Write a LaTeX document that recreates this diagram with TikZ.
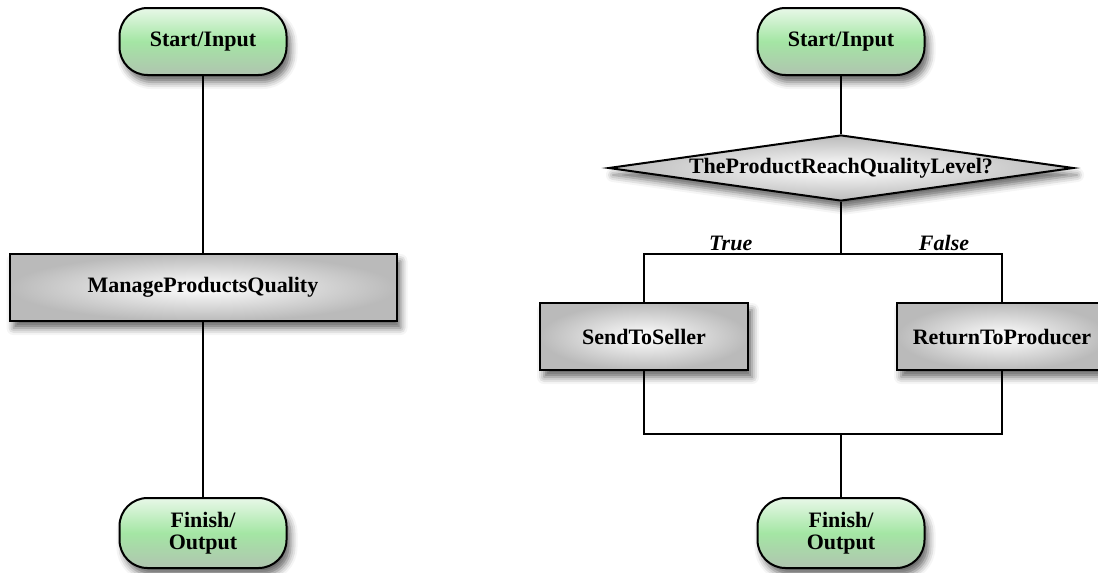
\documentclass[tikz,border=0pt]{standalone}
\usepackage{fontspec}
\setmainfont{Liberation Serif}
\usetikzlibrary{shapes.geometric,shadows.blur}

\definecolor{termtop}{HTML}{E8F8E8}
\definecolor{termmid}{HTML}{A4E6A4}
\definecolor{termbot}{HTML}{B0C4B0}
\definecolor{boxedge}{HTML}{BABABA}

\begin{document}
\begin{tikzpicture}[thick, node distance=123pt, font=\fontsize{11}{11}\selectfont\bfseries,
    soft shadow/.style={blur shadow={shadow xshift=2pt, shadow yshift=-3.5pt, shadow blur radius=3.5pt, shadow opacity=60}},
    term node/.style={rectangle, rounded corners=14pt, draw, line width=1pt, minimum width=83.5pt, minimum height=33.5pt, align=center, top color=termtop, bottom color=termbot, middle color=termmid, soft shadow},
    task node/.style={rectangle, draw, line width=1pt, minimum height=33.5pt, inner color=white, outer color=boxedge, soft shadow},
    test node/.style={diamond, draw, line width=1pt, aspect=7, inner sep=0pt, minimum width=232.5pt, minimum height=33pt, inner color=white, outer color=boxedge, soft shadow},
    branch/.style={above, inner sep=1pt, font=\fontsize{11}{11}\selectfont\bfseries\itshape}]
            \useasboundingbox (0,0) rectangle (549pt,-286.5pt);

            % simple process
            \node [term node](1) at (101.5pt,-20.75pt){Start/Input};
            \node [task node, minimum width=193.5pt](2) [below of=1]{ManageProductsQuality};
            \node [term node, minimum height=35pt](3) [below of=2, yshift=0.25pt]{Finish/\\Output};

            % process with decision
            \node [term node](4) [right of=1, xshift=196pt]{Start/Input};
            \node [test node](5) [below of=4, yshift=59.75pt]{TheProductReachQualityLevel?};
            \node [task node, minimum width=104pt](6) [below of=5, xshift=-98.5pt, yshift=38.75pt]{SendToSeller};
            \node [task node, minimum width=105pt](7) [below of=5, xshift=80.5pt, yshift=38.75pt]{ReturnToProducer};
            \node [term node, minimum height=35pt](8) [below of=5, yshift=-59.5pt]{Finish/\\Output};

            \coordinate (9) at ([yshift=-26pt]5.south);
            \coordinate (10) at ([yshift=31.5pt]8.north);

            \path
                (1) edge (2)
                (2) edge (3)
                (4) edge (5)
                (5) edge (9)
                (10) edge (8)
                ;
            \draw (9) -| node[branch, pos=0.28]{True} (6);
            \draw (9) -| node[branch, pos=0.32]{False} (7);
            \draw (6) |- (10) -| (7);
        \end{tikzpicture}
\end{document}
